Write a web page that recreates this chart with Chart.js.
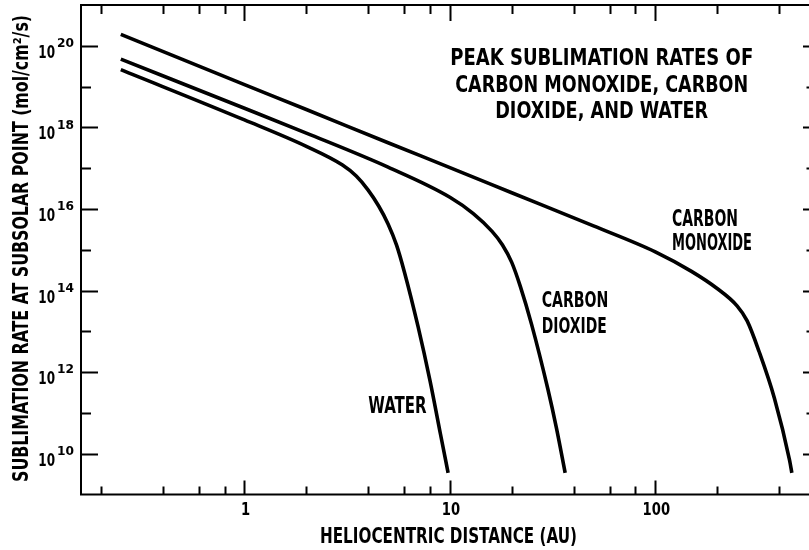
<!DOCTYPE html>
<html>
<head>
<meta charset="utf-8">
<script src="https://cdn.jsdelivr.net/npm/chart.js@4/dist/chart.umd.min.js"></script>
<style>
  html, body { margin: 0; padding: 0; background: #fff; }
  #wrap { width: 809px; height: 550px; }
</style>
</head>
<body>
<div id="wrap"><canvas id="chart" width="809" height="550"></canvas></div>
<script>
// Heliocentric distance (AU) and peak sublimation rate (mol/cm^2/s)
const coDist = [0.25, 1, 2, 5, 10, 20, 50, 100, 150, 200, 250, 280, 320, 380, 450, 462];
const coRate = [1.9e20, 1.12e19, 2.74e18, 4.2e17, 1.03e17, 2.5e16, 3.85e15, 8.9e14, 2.95e14, 1.12e14, 4.2e13, 1.8e13, 3.2e12, 2.3e11, 7.1e9, 3.4e9];

const co2Dist = [0.25, 1, 2, 5, 10, 13, 16, 18, 20, 22, 25, 30, 33, 36.4];
const co2Rate = [4.7e19, 2.94e18, 7.24e17, 1.06e17, 1.94e16, 7.7e15, 2.86e15, 1.33e15, 4.9e14, 1.28e14, 1.46e13, 3.8e11, 4.3e10, 3.4e9];

const waterDist = [0.25, 1, 2, 3, 3.5, 4, 4.5, 5, 5.5, 6, 7, 8, 9, 9.8];
const waterRate = [2.6e19, 1.52e18, 3.42e17, 1.19e17, 6.4e16, 2.9e16, 1.18e16, 4.3e15, 1.3e15, 2.9e14, 1.3e13, 6.2e11, 3.0e10, 3.4e9];

const xMajorTicks = [1, 10, 100];
const xMinorTicks = [0.2, 0.4, 0.6, 0.8, 2, 4, 6, 8, 20, 40, 60, 80, 200, 400];
const yMajorExp = [10, 12, 14, 16, 18, 20];
const yMinorExp = [11, 13, 15, 17, 19];

const FONT = "'Liberation Sans Narrow', 'DejaVu Sans Condensed', 'Liberation Sans', sans-serif";

function toPoints(xs, ys) {
  return xs.map((x, i) => ({ x: x, y: ys[i] }));
}

// draw bold text sized by cap height, optionally squeezed to a given width
function fitText(ctx, str, x, baseline, cap, width, align, sxFixed) {
  ctx.font = 'bold ' + (cap / 0.72).toFixed(2) + 'px ' + FONT;
  let sx = 1;
  if (sxFixed) sx = sxFixed;
  else if (width) sx = width / ctx.measureText(str).width;
  ctx.save();
  ctx.translate(x, baseline);
  ctx.scale(sx, 1);
  ctx.textAlign = align || 'left';
  ctx.textBaseline = 'alphabetic';
  ctx.fillText(str, 0, 0);
  ctx.restore();
}

function scaleFor(ctx, sample, cap, width) {
  ctx.font = 'bold ' + (cap / 0.72).toFixed(2) + 'px ' + FONT;
  return width / ctx.measureText(sample).width;
}

const framePlugin = {
  id: 'frame',
  afterDraw(chart) {
    const ctx = chart.ctx;
    const a = chart.chartArea;
    const xs = chart.scales.x;
    const ys = chart.scales.y;
    ctx.save();
    ctx.strokeStyle = '#000';
    ctx.fillStyle = '#000';
    ctx.lineWidth = 2;

    // frame: left, top, bottom
    ctx.beginPath();
    ctx.moveTo(a.left, a.top); ctx.lineTo(a.left, a.bottom);
    ctx.moveTo(a.left - 1, a.bottom); ctx.lineTo(a.right, a.bottom);
    ctx.moveTo(a.left - 1, a.top); ctx.lineTo(a.right, a.top);
    ctx.stroke();

    // x ticks, bottom and top, pointing inward
    ctx.beginPath();
    xMajorTicks.forEach(v => {
      const px = Math.round(xs.getPixelForValue(v)) + 0.5;
      ctx.moveTo(px, a.bottom); ctx.lineTo(px, a.bottom - 14);
      ctx.moveTo(px, a.top); ctx.lineTo(px, a.top + 16);
    });
    xMinorTicks.forEach(v => {
      const px = Math.round(xs.getPixelForValue(v)) + 0.5;
      ctx.moveTo(px, a.bottom); ctx.lineTo(px, a.bottom - 8);
      ctx.moveTo(px, a.top); ctx.lineTo(px, a.top + 9);
    });
    // y ticks, left and right
    yMajorExp.forEach(e => {
      const py = Math.round(ys.getPixelForValue(Math.pow(10, e))) + 0.5;
      ctx.moveTo(a.left, py); ctx.lineTo(a.left + 17, py);
      ctx.moveTo(a.right, py); ctx.lineTo(a.right - 6, py);
    });
    yMinorExp.forEach(e => {
      const py = Math.round(ys.getPixelForValue(Math.pow(10, e))) + 0.5;
      ctx.moveTo(a.left, py); ctx.lineTo(a.left + 10, py);
      ctx.moveTo(a.right, py); ctx.lineTo(a.right - 2.5, py);
    });
    ctx.stroke();

    // x tick labels
    const sxX = scaleFor(ctx, '10', 13.3, 18.3);
    xMajorTicks.forEach(v => {
      fitText(ctx, String(v), xs.getPixelForValue(v) + 1, a.bottom + 20.5, 13.3, null, 'center', sxX);
    });

    // y tick labels as 10 with superscript exponent
    const sxBase = scaleFor(ctx, '10', 12.5, 16.7);
    const sxSup = scaleFor(ctx, '20', 9, 17);
    yMajorExp.forEach(e => {
      const py = ys.getPixelForValue(Math.pow(10, e));
      fitText(ctx, '10', 55, py + 12, 12.5, null, 'right', sxBase);
      fitText(ctx, String(e), 57, py + 1.3, 9, null, 'left', sxSup);
    });

    // axis titles
    fitText(ctx, 'HELIOCENTRIC DISTANCE (AU)', 320, 543.3, 15, 257, 'left');
    ctx.save();
    ctx.translate(27.5, 482);
    ctx.rotate(-Math.PI / 2);
    fitText(ctx, 'SUBLIMATION RATE AT SUBSOLAR POINT (mol/cm\u00B2/s)', 0, 0, 15, 467, 'left');
    ctx.restore();

    // chart title
    fitText(ctx, 'PEAK SUBLIMATION RATES OF', 601.7, 65, 16.7, 303, 'center');
    fitText(ctx, 'CARBON MONOXIDE, CARBON', 601.7, 91.6, 16.5, 293, 'center');
    fitText(ctx, 'DIOXIDE, AND WATER', 601.7, 118, 16.5, 213, 'center');

    // curve labels
    fitText(ctx, 'CARBON', 672, 226, 17, 66, 'left');
    fitText(ctx, 'MONOXIDE', 672, 250, 16.5, 80, 'left');
    fitText(ctx, 'CARBON', 541.7, 307.3, 14.7, 66.7, 'left');
    fitText(ctx, 'DIOXIDE', 541.7, 333.3, 15, 65, 'left');
    fitText(ctx, 'WATER', 368.3, 413, 16, 58.3, 'left');

    ctx.restore();
  }
};

const lineStyle = {
  borderColor: '#000',
  borderWidth: 3.6,
  pointRadius: 0,
  fill: false,
  cubicInterpolationMode: 'monotone'
};

new Chart(document.getElementById('chart').getContext('2d'), {
  type: 'scatter',
  data: {
    datasets: [
      Object.assign({ label: 'Carbon monoxide', data: toPoints(coDist, coRate), showLine: true }, lineStyle),
      Object.assign({ label: 'Carbon dioxide', data: toPoints(co2Dist, co2Rate), showLine: true }, lineStyle),
      Object.assign({ label: 'Water', data: toPoints(waterDist, waterRate), showLine: true }, lineStyle)
    ]
  },
  options: {
    responsive: false,
    animation: false,
    devicePixelRatio: 1,
    layout: { padding: { left: 81, top: 5, right: 0, bottom: 55.5 } },
    plugins: { legend: { display: false }, tooltip: { enabled: false } },
    scales: {
      x: { type: 'logarithmic', min: 0.16, max: 560, display: false },
      y: { type: 'logarithmic', min: 1e9, max: 1e21, display: false }
    }
  },
  plugins: [framePlugin]
});
</script>
</body>
</html>
